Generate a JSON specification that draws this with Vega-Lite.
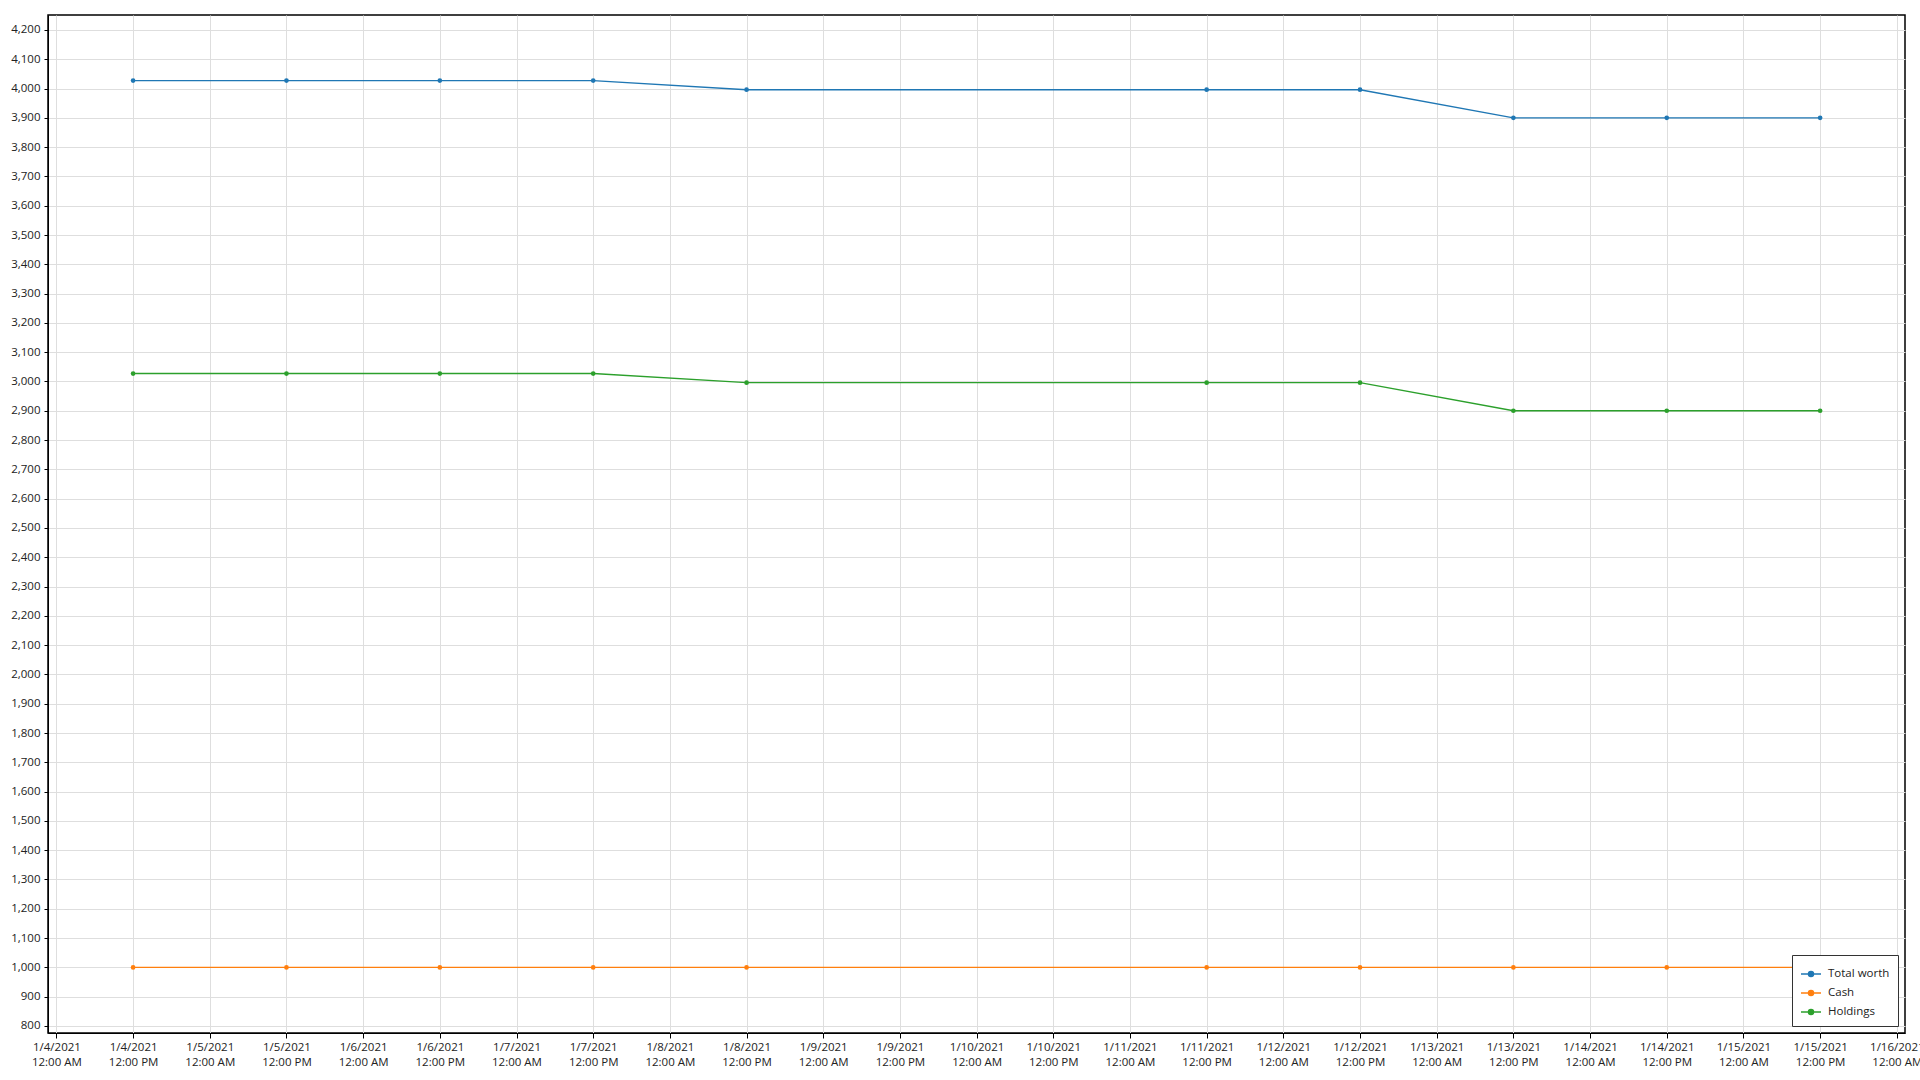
{
  "$schema": "https://vega.github.io/schema/vega-lite/v6.json",
  "width": 1857,
  "height": 1018,
  "autosize": {"type": "none"},
  "padding": {"left": 48, "top": 15, "right": 15, "bottom": 47},
  "background": "white",
  "config": {
    "font": "Open Sans",
    "view": {"stroke": "black", "strokeWidth": 1.5},
    "axis": {
      "labelFont": "Open Sans",
      "labelFontSize": 11.5,
      "labelColor": "#222222",
      "domainColor": "black",
      "tickColor": "black",
      "gridColor": "#dedede",
      "gridWidth": 1,
      "title": null
    }
  },
  "data": {
    "values": [
      {"date": "2021-01-04T12:00:00Z", "series": "Total worth", "value": 4027},
      {"date": "2021-01-05T12:00:00Z", "series": "Total worth", "value": 4027},
      {"date": "2021-01-06T12:00:00Z", "series": "Total worth", "value": 4027},
      {"date": "2021-01-07T12:00:00Z", "series": "Total worth", "value": 4027},
      {"date": "2021-01-08T12:00:00Z", "series": "Total worth", "value": 3996},
      {"date": "2021-01-11T12:00:00Z", "series": "Total worth", "value": 3996},
      {"date": "2021-01-12T12:00:00Z", "series": "Total worth", "value": 3996},
      {"date": "2021-01-13T12:00:00Z", "series": "Total worth", "value": 3900},
      {"date": "2021-01-14T12:00:00Z", "series": "Total worth", "value": 3900},
      {"date": "2021-01-15T12:00:00Z", "series": "Total worth", "value": 3900},
      {"date": "2021-01-04T12:00:00Z", "series": "Cash", "value": 1000},
      {"date": "2021-01-05T12:00:00Z", "series": "Cash", "value": 1000},
      {"date": "2021-01-06T12:00:00Z", "series": "Cash", "value": 1000},
      {"date": "2021-01-07T12:00:00Z", "series": "Cash", "value": 1000},
      {"date": "2021-01-08T12:00:00Z", "series": "Cash", "value": 1000},
      {"date": "2021-01-11T12:00:00Z", "series": "Cash", "value": 1000},
      {"date": "2021-01-12T12:00:00Z", "series": "Cash", "value": 1000},
      {"date": "2021-01-13T12:00:00Z", "series": "Cash", "value": 1000},
      {"date": "2021-01-14T12:00:00Z", "series": "Cash", "value": 1000},
      {"date": "2021-01-15T12:00:00Z", "series": "Cash", "value": 1000},
      {"date": "2021-01-04T12:00:00Z", "series": "Holdings", "value": 3027},
      {"date": "2021-01-05T12:00:00Z", "series": "Holdings", "value": 3027},
      {"date": "2021-01-06T12:00:00Z", "series": "Holdings", "value": 3027},
      {"date": "2021-01-07T12:00:00Z", "series": "Holdings", "value": 3027},
      {"date": "2021-01-08T12:00:00Z", "series": "Holdings", "value": 2996},
      {"date": "2021-01-11T12:00:00Z", "series": "Holdings", "value": 2996},
      {"date": "2021-01-12T12:00:00Z", "series": "Holdings", "value": 2996},
      {"date": "2021-01-13T12:00:00Z", "series": "Holdings", "value": 2900},
      {"date": "2021-01-14T12:00:00Z", "series": "Holdings", "value": 2900},
      {"date": "2021-01-15T12:00:00Z", "series": "Holdings", "value": 2900}
    ]
  },
  "mark": {"type": "line", "strokeWidth": 1.4, "point": {"filled": true, "size": 22}},
  "encoding": {
    "x": {
      "field": "date",
      "type": "temporal",
      "scale": {
        "type": "utc",
        "domain": [1609713660000, 1610759820000],
        "nice": false
      },
      "axis": {
        "values": [1609718400000, 1609761600000, 1609804800000, 1609848000000, 1609891200000, 1609934400000, 1609977600000, 1610020800000, 1610064000000, 1610107200000, 1610150400000, 1610193600000, 1610236800000, 1610280000000, 1610323200000, 1610366400000, 1610409600000, 1610452800000, 1610496000000, 1610539200000, 1610582400000, 1610625600000, 1610668800000, 1610712000000, 1610755200000],
        "tickSize": 5,
        "labelPadding": 3,
        "labelLineHeight": 15,
        "labelAlign": "center",
        "labelOverlap": false,
        "labelFlush": false,
        "labelExpr": "[utcFormat(datum.value, '%-m/%-d/%Y'), utcFormat(datum.value, '%I:%M %p')]"
      }
    },
    "y": {
      "field": "value",
      "type": "quantitative",
      "scale": {"domain": [776, 4251], "nice": false, "zero": false},
      "axis": {
        "values": [800, 900, 1000, 1100, 1200, 1300, 1400, 1500, 1600, 1700, 1800, 1900, 2000, 2100, 2200, 2300, 2400, 2500, 2600, 2700, 2800, 2900, 3000, 3100, 3200, 3300, 3400, 3500, 3600, 3700, 3800, 3900, 4000, 4100, 4200],
        "format": ",.0f",
        "tickSize": 4,
        "labelPadding": 4
      }
    },
    "color": {
      "field": "series",
      "type": "nominal",
      "scale": {
        "domain": ["Total worth", "Cash", "Holdings"],
        "range": ["#1f77b4", "#ff7f0e", "#2ca02c"]
      },
      "legend": {
        "title": null,
        "orient": "bottom-right",
        "offset": 7,
        "fillColor": "white",
        "strokeColor": "#333333",
        "padding": 8,
        "labelFont": "Open Sans",
        "labelFontSize": 11.5,
        "labelColor": "#222222",
        "rowPadding": 2,
        "symbolType": "M-1,0H1M-0.25,0A0.25,0.25,0,1,1,0.25,0A0.25,0.25,0,1,1,-0.25,0Z",
        "symbolSize": 400,
        "symbolStrokeWidth": 1.5,
        "labelOffset": 6
      }
    }
  }
}
